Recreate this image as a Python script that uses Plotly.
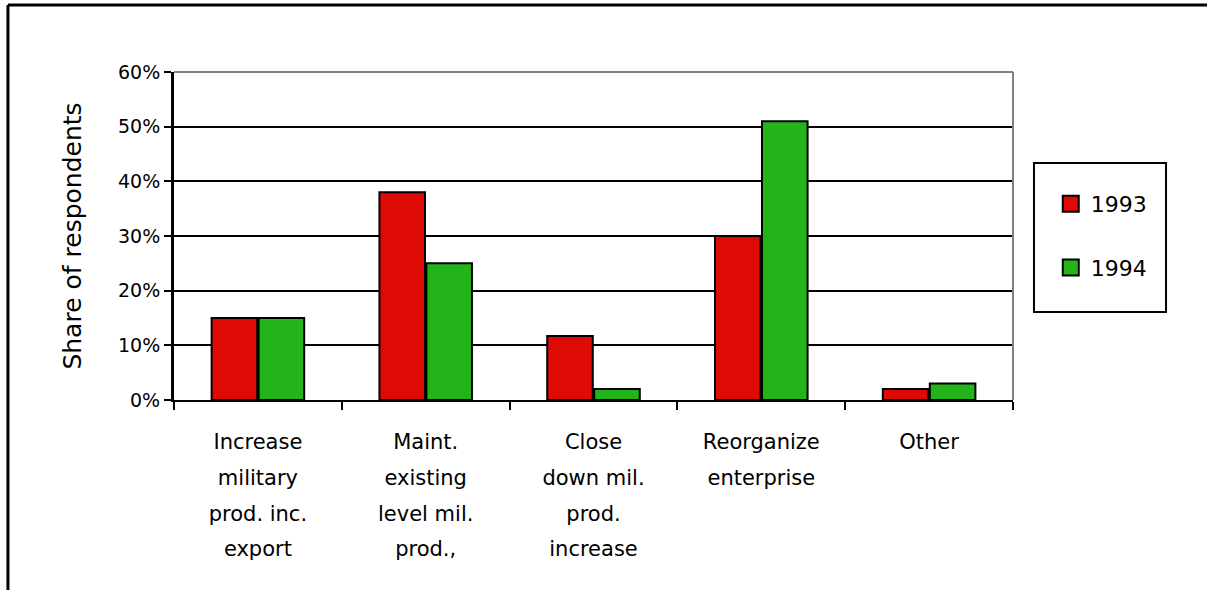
import plotly.graph_objects as go

categories = [
    "Increase<br>military<br>prod. inc.<br>export",
    "Maint.<br>existing<br>level mil.<br>prod.,",
    "Close<br>down mil.<br>prod.<br>increase",
    "Reorganize<br>enterprise",
    "Other",
]
series_names = ["1993", "1994"]
values_1993 = [0.15, 0.38, 0.117, 0.30, 0.02]
values_1994 = [0.15, 0.25, 0.02, 0.51, 0.03]
y_ticks = [0, 0.1, 0.2, 0.3, 0.4, 0.5, 0.6]
y_tick_labels = ["0%", "10%", "20%", "30%", "40%", "50%", "60%"]

colors = ["#DD0A06", "#22B418"]
FONT = "DejaVu Sans"
LABEL_SIZE = 21


def styled(label):
    # wrap each line so the glyphs are LABEL_SIZE while the line spacing follows the larger base font
    return "<br>".join(
        f"<span style='font-size:{LABEL_SIZE}px'>{part}</span>" for part in label.split("<br>")
    )


fig = go.Figure()
for name, vals, col in zip(series_names, [values_1993, values_1994], colors):
    fig.add_trace(go.Bar(
        x=categories, y=vals, name=name, showlegend=False,
        marker=dict(color=col, line=dict(color="black", width=2)),
        hoverinfo="skip",
    ))
# legend entries (bigger square symbols)
for i, (name, col) in enumerate(zip(series_names, colors)):
    fig.add_trace(go.Scatter(
        x=[None], y=[None], name=name, mode="markers", legendgroup=f"g{i}",
        marker=dict(symbol="square", size=16, color=col, line=dict(color="black", width=2)),
    ))

n = len(categories)
boundaries = [i - 0.5 for i in range(n + 1)]

fig.update_layout(
    width=1207, height=590,
    margin=dict(l=174, r=194, t=72, b=190),
    paper_bgcolor="white", plot_bgcolor="white",
    font=dict(family=FONT, color="black"),
    barmode="group", bargap=0.44, bargroupgap=0.03,
    showlegend=True,
    legend=dict(
        x=1.045, y=0.6616, xanchor="left", yanchor="top",
        font=dict(family=FONT, size=22, color="black"),
        bgcolor="rgba(0,0,0,0)", borderwidth=0,
        tracegroupgap=32,
    ),
    xaxis=dict(
        type="category", range=[-0.5, n - 0.5],
        tickmode="array", tickvals=categories, ticktext=[styled(c) for c in categories],
        showline=True, linecolor="black", linewidth=2,
        ticks="outside", ticklen=8, tickwidth=2, tickcolor="black",
        tickson="boundaries", showgrid=False,
        tickfont=dict(family=FONT, size=27.5, color="black"),
        ticklabelstandoff=14,
    ),
    xaxis2=dict(
        overlaying="x", anchor="y", side="bottom",
        range=[-0.5, n - 0.5], tickmode="array", tickvals=boundaries,
        ticks="inside", ticklen=8, tickwidth=2, tickcolor="black",
        showticklabels=False, showgrid=False, showline=False, zeroline=False,
    ),
    yaxis=dict(
        range=[0, 0.6], tickmode="array", tickvals=y_ticks, ticktext=y_tick_labels,
        showline=True, linecolor="black", linewidth=3,
        ticks="outside", ticklen=7, tickwidth=2, tickcolor="black",
        showgrid=True, gridcolor="black", gridwidth=2, zeroline=False,
        tickfont=dict(family=FONT, size=19, color="black"),
        title=dict(text="Share of respondents", font=dict(family=FONT, size=25, color="black"), standoff=30),
    ),
    shapes=[
        # plot area top/right border (gray)
        dict(type="line", xref="paper", yref="paper", x0=0, x1=1, y0=1, y1=1,
             line=dict(color="#808080", width=2), layer="above"),
        dict(type="line", xref="paper", yref="paper", x0=1, x1=1, y0=0, y1=1,
             line=dict(color="#808080", width=2), layer="above"),
        # outer frame
        dict(type="line", xref="paper", yref="paper", x0=-0.1979, x1=1.25, y0=1.2043, y1=1.2043,
             line=dict(color="black", width=3)),
        dict(type="line", xref="paper", yref="paper", x0=-0.1979, x1=-0.1979, y0=1.2043, y1=-0.62,
             line=dict(color="black", width=3)),
        # legend box
        dict(type="rect", xref="paper", yref="paper", x0=1.0250, x1=1.1824, y0=0.2683, y1=0.7226,
             line=dict(color="black", width=2), fillcolor="rgba(0,0,0,0)"),
    ],
)

fig.write_html("out.html")
